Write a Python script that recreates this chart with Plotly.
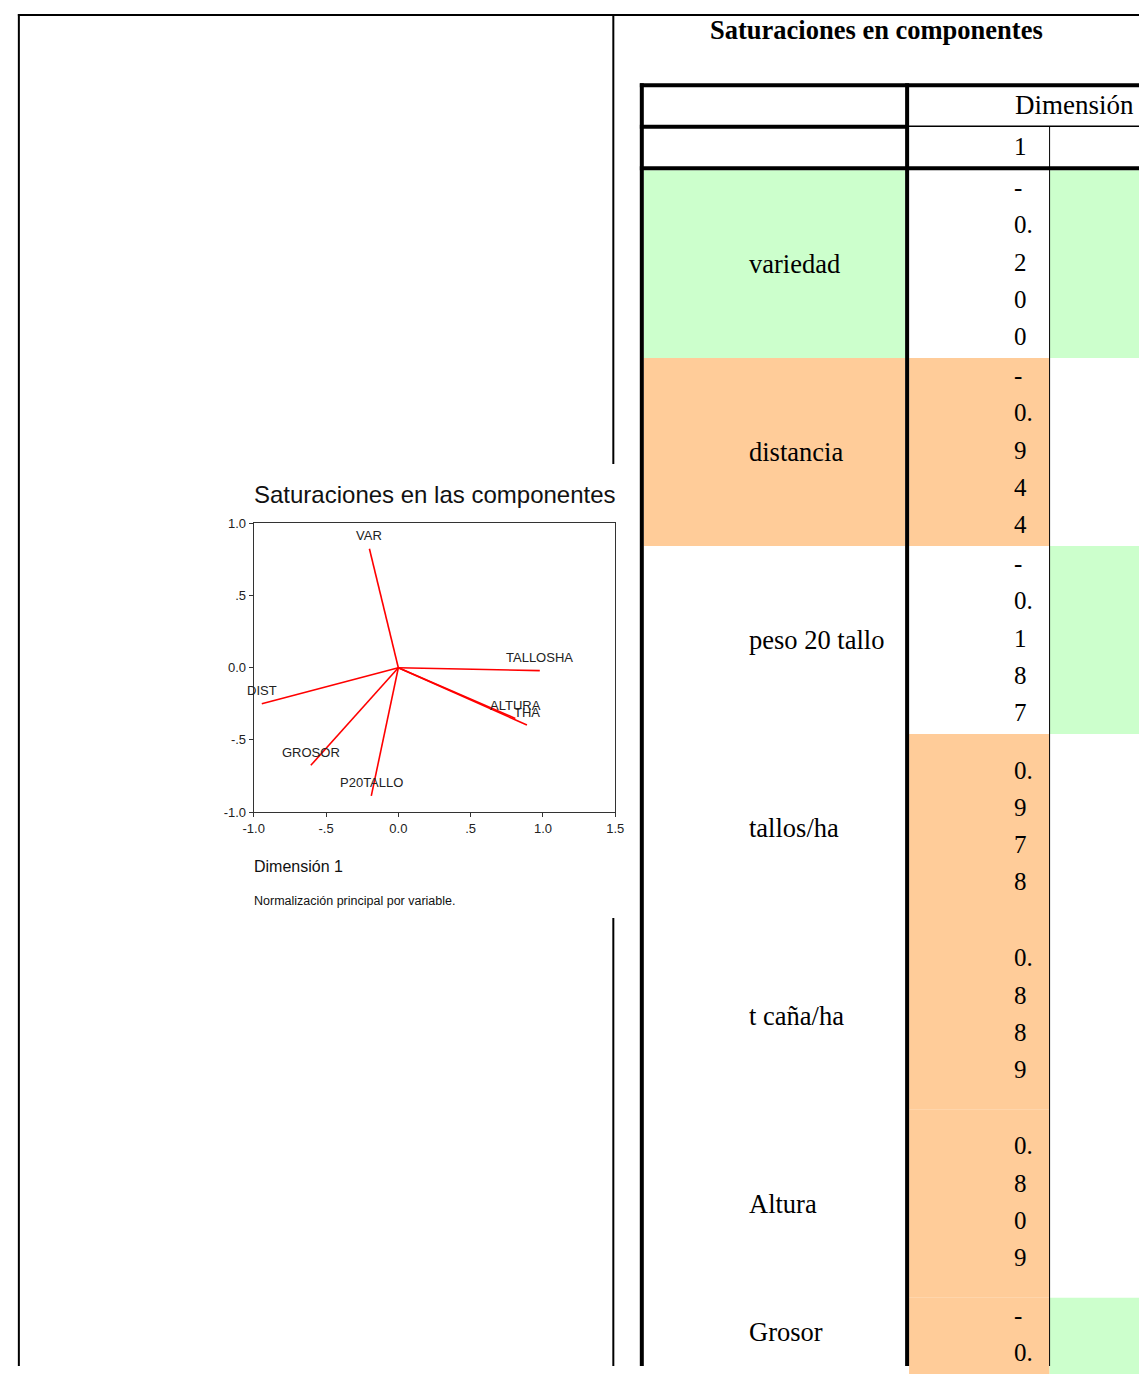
import plotly.graph_objects as go

# Component loadings (dimension 1 as tabulated, dimension 2 from the biplot)
variables = ["variedad", "distancia", "peso 20 tallo", "tallos/ha", "t caña/ha", "Altura", "Grosor"]
chart_labels = ["VAR", "DIST", "P20TALLO", "TALLOSHA", "THA", "ALTURA", "GROSOR"]
dim1 = [-0.200, -0.944, -0.187, 0.978, 0.889, 0.809, -0.605]
dim2 = [0.824, -0.249, -0.888, -0.020, -0.397, -0.351, -0.676]

x_ticks = [-1.0, -0.5, 0.0, 0.5, 1.0, 1.5]
x_ticktext = ["-1.0", "-.5", "0.0", ".5", "1.0", "1.5"]
y_ticks = [-1.0, -0.5, 0.0, 0.5, 1.0]
y_ticktext = ["-1.0", "-.5", "0.0", ".5", "1.0"]

# Label-column shading
label_fill = ["#CCFFCC", "#FFCC99", None, None, None, None, None]

W, H = 1148, 1374
GREEN, ORANGE = "#CCFFCC", "#FFCC99"
SERIF = "Liberation Serif, Times New Roman, serif"
SANS = "Liberation Sans, Arial, sans-serif"


def px(x):
    return x / W


def py(y):
    return 1 - y / H


shapes = []
annotations = []


def line(x0, y0, x1, y1, width, color="black"):
    shapes.append(dict(type="line", xref="paper", yref="paper",
                       x0=px(x0), y0=py(y0), x1=px(x1), y1=py(y1),
                       line=dict(color=color, width=width)))


def rect(x0, y0, x1, y1, fill):
    shapes.append(dict(type="rect", xref="paper", yref="paper",
                       x0=px(x0), y0=py(y0), x1=px(x1), y1=py(y1),
                       fillcolor=fill, line=dict(width=0), layer="below"))


def text(x, y, s, size, family, xanchor="left", color="black", bold=False):
    if bold:
        s = "<b>" + s + "</b>"
    annotations.append(dict(xref="paper", yref="paper", x=px(x), y=py(y), text=s,
                            showarrow=False, xanchor=xanchor, yanchor="middle",
                            font=dict(size=size, family=family, color=color)))


# ---- Biplot of the loadings ----
fig = go.Figure()
for lab, a, b in zip(chart_labels, dim1, dim2):
    fig.add_trace(go.Scatter(x=[0, a], y=[0, b], mode="lines",
                             line=dict(color="#FF0000", width=1.6),
                             hoverinfo="skip", showlegend=False))
    annotations.append(dict(xref="x", yref="y", x=a, y=b, text=lab, showarrow=False,
                            xanchor="center", yanchor="middle", yshift=13,
                            font=dict(size=13, family=SANS, color="#222222")))

text(245, 493, "Saturaciones en las componentes", 24, SANS, color="#111111")
text(245, 869, "Dimensión 1", 16, SANS, color="#111111")
text(245, 904, "Normalización principal por variable.", 12.5, SANS, color="#111111")

# ---- Page frame ----
line(7, 8, W, 8, 2)
line(8, 7, 8, H, 2)
line(613, 8, 613, 462, 2)
line(613, 921, 613, H, 2)

# ---- Loadings table ----
text(881, 23, "Saturaciones en componentes", 26.5, SERIF, xanchor="center", bold=True)

row_top0, row_h = 165, 190
line_step = 37.7

for i, (name, v1, v2) in enumerate(zip(variables, dim1, dim2)):
    top = row_top0 + i * row_h
    bot = top + row_h
    if label_fill[i]:
        rect(644, top, 910, bot, label_fill[i])
    if abs(v1) > 0.5:
        rect(914, top, 1057, bot, ORANGE)
    if abs(v2) > 0.5:
        rect(1057, top, W, bot, GREEN)

    # label centred in the visible part of its row
    text(749, (top + min(bot, H)) / 2, name, 26.5, SERIF)

    # narrow column: the value wraps one character per line
    s = f"{v1:.3f}"
    parts = []
    for ch in s:
        if ch == "." and parts:
            parts[-1] += ch
        else:
            parts.append(ch)
    n = len(parts)
    centre = (top + bot) / 2 - 2
    for k, p in enumerate(parts):
        text(1019, centre + (k - (n - 1) / 2) * line_step, p, 25, SERIF)

# header rows
text(1020, 99, "Dimensión", 27, SERIF)
text(1019, 141, "1", 25, SERIF)

# rules
line(640, 79, W, 79, 4)
line(640, 121, 912, 121, 4)
line(912, 120.5, W, 120.5, 1.5)
line(640, 163, W, 163, 4)
line(642, 77, 642, H, 4)
line(912, 77, 912, H, 4)
line(1057, 121, 1057, H, 1)

fig.update_layout(
    width=W, height=H,
    margin=dict(l=0, r=0, t=0, b=0),
    paper_bgcolor="white", plot_bgcolor="white",
    showlegend=False,
    shapes=shapes, annotations=annotations,
    xaxis=dict(domain=[px(247), px(615)], range=[-1.0, 1.5],
               tickvals=x_ticks, ticktext=x_ticktext,
               showgrid=False, zeroline=False,
               showline=True, linecolor="#333333", linewidth=1, mirror=True,
               ticks="outside", ticklen=4, tickcolor="#333333",
               tickfont=dict(size=13, family=SANS, color="#222222")),
    yaxis=dict(domain=[py(814), py(522)], range=[-1.0, 1.0],
               tickvals=y_ticks, ticktext=y_ticktext,
               showgrid=False, zeroline=False,
               showline=True, linecolor="#333333", linewidth=1, mirror=True,
               ticks="outside", ticklen=4, tickcolor="#333333",
               tickfont=dict(size=13, family=SANS, color="#222222")),
)

fig.write_html("out.html")
